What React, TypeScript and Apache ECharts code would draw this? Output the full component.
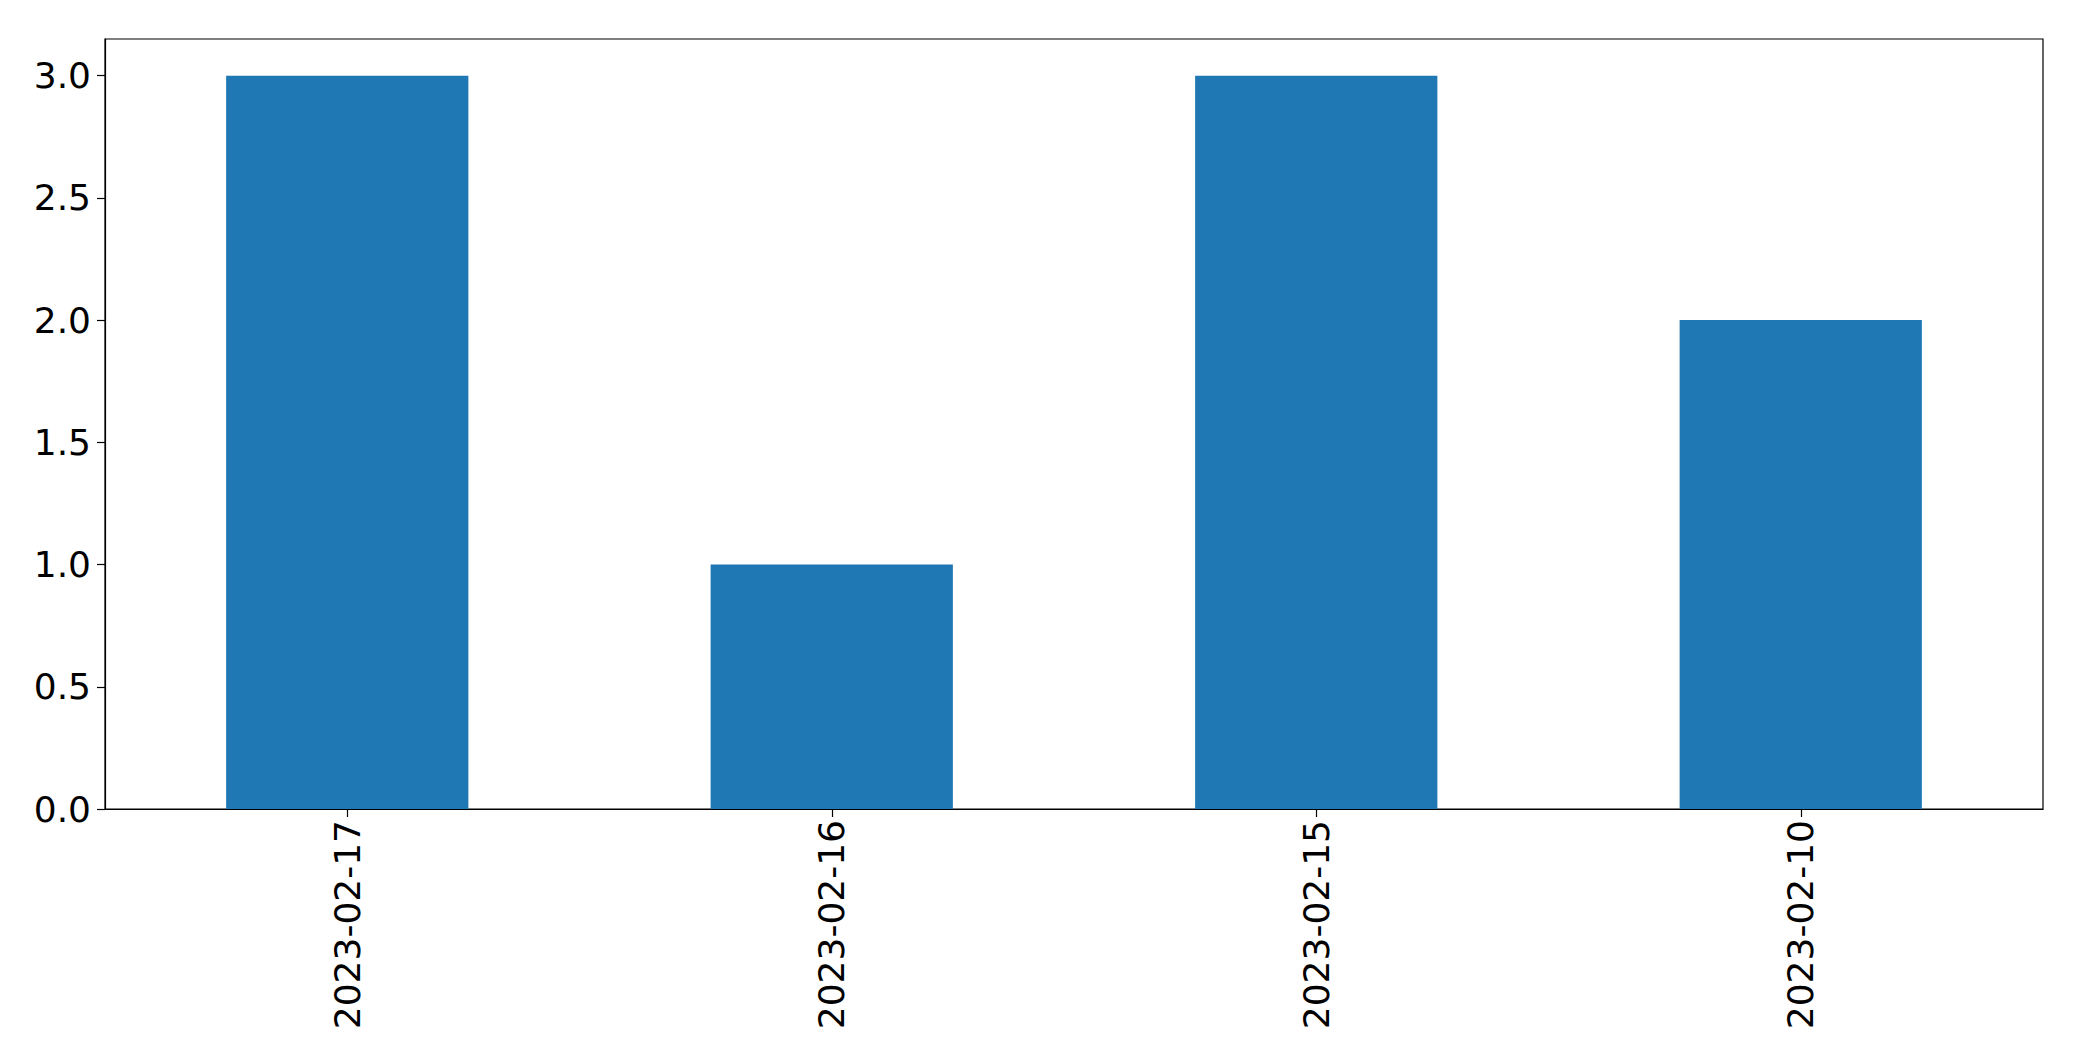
import React, { useEffect, useRef } from "react";
import * as echarts from "echarts";

const categories = ["2023-02-17", "2023-02-16", "2023-02-15", "2023-02-10"];
const values = [3, 1, 3, 2];
const yTicks = [0, 0.5, 1.0, 1.5, 2.0, 2.5, 3.0];

export default function App() {
  const ref = useRef<HTMLDivElement>(null);
  useEffect(() => {
    if (!ref.current) return;
    const chart = echarts.init(ref.current, null, { renderer: "svg" });
    const font = "DejaVu Sans";
    chart.setOption({
      animation: false,
      backgroundColor: "#ffffff",
      grid: {
        left: 105,
        top: 39,
        width: 1938,
        height: 770,
        show: true,
        borderColor: "#000",
        borderWidth: 1.2,
        containLabel: false,
      },
      xAxis: {
        type: "category",
        data: categories,
        axisLine: { show: true, lineStyle: { color: "#000", width: 1.2 } },
        axisTick: { show: true, alignWithLabel: true, length: 8, lineStyle: { color: "#000", width: 1.2 } },
        axisLabel: {
          rotate: 90,
          fontSize: 36,
          fontFamily: font,
          color: "#000",
          margin: 11,
        },
        splitLine: { show: false },
      },
      yAxis: {
        type: "value",
        min: 0,
        max: 3.15,
        axisLine: { show: true, lineStyle: { color: "#000", width: 1.2 } },
        axisTick: {
          show: true,
          length: 8,
          lineStyle: { color: "#000", width: 1.2 },
          customValues: yTicks,
        },
        axisLabel: {
          fontSize: 36,
          fontFamily: font,
          color: "#000",
          margin: 14,
          customValues: yTicks,
          formatter: (v: number) => v.toFixed(1),
        },
        splitLine: { show: false },
      },
      series: [
        {
          type: "bar",
          data: values,
          barWidth: "50%",
          itemStyle: { color: "#1f77b4" },
        },
      ],
    });
    return () => chart.dispose();
  }, []);
  return (
    <div
      ref={ref}
      style={{ position: "fixed", left: 0, top: 0, width: 2082, height: 1061, background: "#fff" }}
    />
  );
}
